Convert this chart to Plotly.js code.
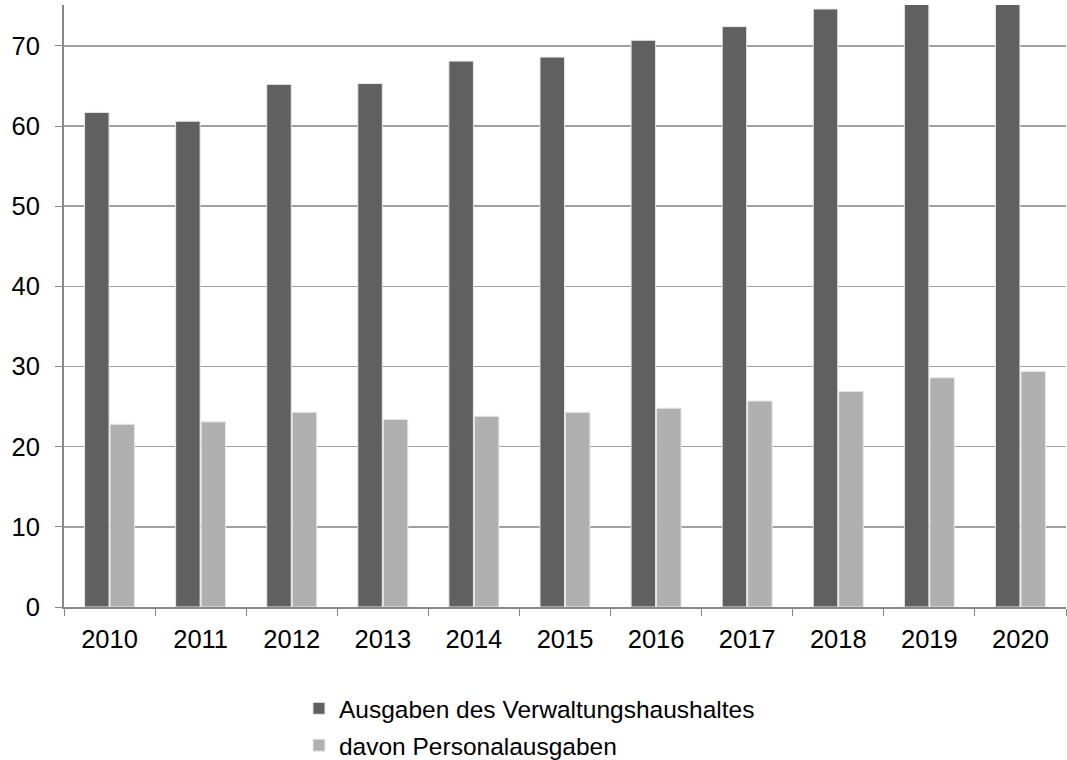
<!DOCTYPE html>
<html>
<head>
<meta charset="utf-8">
<script src="https://cdn.plot.ly/plotly-3.0.1.min.js"></script>
<style>html,body{margin:0;padding:0;background:#fff;}#chart{width:1067px;height:760px;}</style>
</head>
<body>
<div id="chart"></div>
<script>
const years = ["2010","2011","2012","2013","2014","2015","2016","2017","2018","2019","2020"];
const ausgaben = [61.7, 60.6, 65.2, 65.3, 68.1, 68.6, 70.7, 72.4, 74.6, 76.5, 77.5];
const personal = [22.8, 23.1, 24.3, 23.4, 23.8, 24.3, 24.8, 25.7, 26.9, 28.6, 29.4];
const seriesNames = ["Ausgaben des Verwaltungshaushaltes", "davon Personalausgaben"];
const yTicks = [0, 10, 20, 30, 40, 50, 60, 70];

const font = {family: "Liberation Sans, Arial, sans-serif", color: "#000"};

const traces = [
  {type: "bar", x: years, y: ausgaben, name: seriesNames[0], legendgroup: "a",
   marker: {color: "#606060", line: {color: "#e8e8e8", width: 1}}},
  {type: "bar", x: years, y: personal, name: seriesNames[1], legendgroup: "b",
   marker: {color: "#b0b0b0", line: {color: "#e8e8e8", width: 1}}}
];

const layout = {
  width: 1067, height: 760,
  margin: {l: 64, r: 1, t: 5, b: 153, autoexpand: false},
  paper_bgcolor: "#fff", plot_bgcolor: "#fff",
  barmode: "group", bargap: 0.44, bargroupgap: 0.04,
  font: Object.assign({size: 20}, font),
  xaxis: {
    type: "category", showgrid: false, showline: true, linecolor: "#888", linewidth: 2,
    ticks: "outside", tickson: "boundaries", ticklen: 7, tickcolor: "#888", tickwidth: 1,
    tickfont: Object.assign({size: 25.5}, font), ticklabelstandoff: 8
  },
  yaxis: {
    range: [0, 75.1], tickvals: yTicks, ticktext: yTicks.map(String),
    showgrid: true, gridcolor: "#a0a0a0", gridwidth: 1.5,
    showline: true, linecolor: "#888", linewidth: 2,
    ticks: "outside", ticklen: 7, tickcolor: "#888", tickwidth: 1,
    tickfont: Object.assign({size: 25.5}, font), ticklabelstandoff: 10,
    zeroline: false
  },
  legend: {
    orientation: "v", x: 0.2345, xanchor: "left", y: -0.131, yanchor: "top",
    font: Object.assign({size: 24.5}, font), traceorder: "grouped", tracegroupgap: 2,
    bgcolor: "rgba(0,0,0,0)"
  },
  showlegend: true
};

Plotly.newPlot("chart", traces, layout, {displayModeBar: false, staticPlot: true});
</script>
</body>
</html>
